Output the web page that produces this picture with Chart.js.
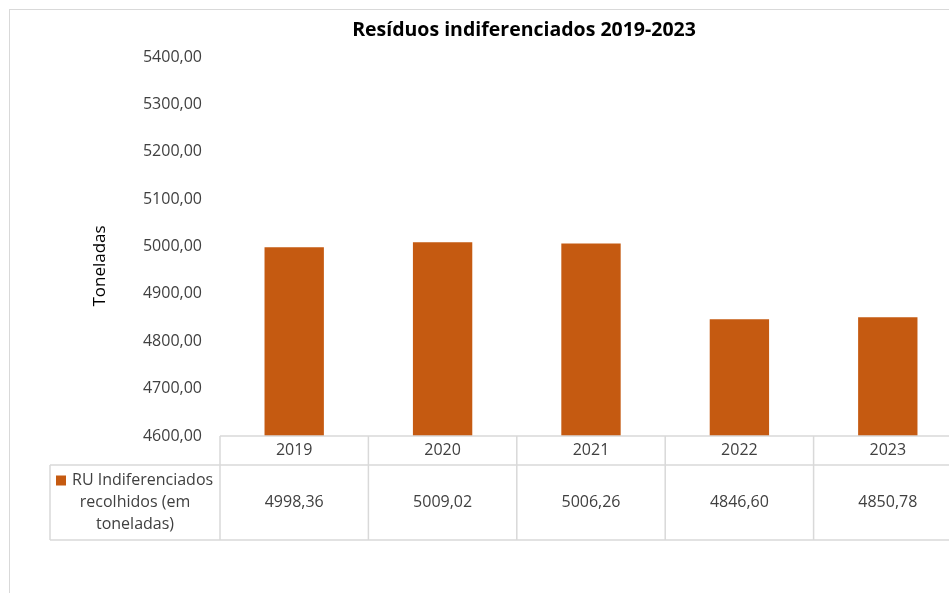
<!DOCTYPE html>
<html>
<head>
<meta charset="utf-8">
<script src="https://cdn.jsdelivr.net/npm/chart.js@4"></script>
<style>
  html, body { margin: 0; padding: 0; background: #fff; overflow: hidden; }
  #wrap { width: 1040px; height: 593px; }
</style>
</head>
<body>
<div id="wrap"><canvas id="mycanvas" width="1040" height="593"></canvas></div>
<script>
// valores do gráfico
var anos = ['2019', '2020', '2021', '2022', '2023'];
var toneladas = [4998.36, 5009.02, 5006.26, 4846.60, 4850.78];
var legenda = ['RU Indiferenciados', 'recolhidos (em', 'toneladas)'];
var titulo = 'Resíduos indiferenciados 2019-2023';
var tituloEixo = 'Toneladas';
var yMin = 4600, yMax = 5400, yPasso = 100;

var cor = '#C55A11';
var linha = '#d9d9d9';
var texto = '#404040';
var fonte = '"Open Sans", "Liberation Sans", sans-serif';

function fmt(v) {
	return v.toFixed(2).replace('.', ',');
}

// moldura, título, título do eixo e tabela de dados
var extras = {
	id: 'extras',
	beforeDraw: function(chart) {
		var c = chart.ctx;
		c.save();
		c.strokeStyle = linha;
		c.lineWidth = 1;
		c.strokeRect(9.5, 9.5, 1030, 600);
		c.restore();
	},
	afterDraw: function(chart) {
		var c = chart.ctx;
		var x = chart.scales.x;
		var area = chart.chartArea;
		var meia = (x.getPixelForValue(1) - x.getPixelForValue(0)) / 2;
		var esq = area.left, dir = x.getPixelForValue(anos.length - 1) + meia;
		var y0 = area.bottom, y1 = y0 + 29, y2 = y0 + 104;
		var legEsq = 50;

		c.save();
		// título
		c.fillStyle = '#000';
		c.font = 'bold 19.5px ' + fonte;
		c.textAlign = 'center';
		c.textBaseline = 'middle';
		c.fillText(titulo, 524, 30);

		// título do eixo
		c.save();
		c.translate(100, 266);
		c.rotate(-Math.PI / 2);
		c.font = '17px ' + fonte;
		c.fillStyle = '#000';
		c.fillText(tituloEixo, 0, 0);
		c.restore();

		// linhas da tabela
		c.strokeStyle = linha;
		c.lineWidth = 1.5;
		c.beginPath();
		c.moveTo(esq, y0); c.lineTo(dir, y0);
		c.moveTo(legEsq, y1); c.lineTo(dir, y1);
		c.moveTo(legEsq, y2); c.lineTo(dir, y2);
		c.moveTo(legEsq, y1); c.lineTo(legEsq, y2);
		for (var i = 0; i <= anos.length; i++) {
			var px = i < anos.length ? x.getPixelForValue(i) - meia : dir;
			c.moveTo(px, y0); c.lineTo(px, y2);
		}
		c.stroke();

		// anos e valores
		c.fillStyle = texto;
		c.font = '16px ' + fonte;
		for (var j = 0; j < anos.length; j++) {
			var cx = x.getPixelForValue(j);
			c.fillText(anos[j], cx, (y0 + y1) / 2);
			c.fillText(fmt(toneladas[j]), cx, (y1 + y2) / 2);
		}

		// legenda
		var mid = (legEsq + esq) / 2;
		var ly = (y1 + y2) / 2 - 22;
		c.fillStyle = cor;
		c.fillRect(56, ly - 5, 10, 10);
		c.fillStyle = texto;
		c.textAlign = 'left';
		c.fillText(legenda[0], 72, ly);
		c.textAlign = 'center';
		c.fillText(legenda[1], mid, ly + 22);
		c.fillText(legenda[2], mid, ly + 44);
		c.restore();
	}
};

var ctx = document.getElementById('mycanvas');

var grafico = new Chart(ctx, {
	type: 'bar',
	data: {
		labels: anos,
		datasets: [{
			label: legenda.join(' '),
			backgroundColor: cor,
			borderWidth: 0,
			data: toneladas,
			categoryPercentage: 1,
			barPercentage: 0.4
		}]
	},
	options: {
		responsive: false,
		animation: false,
		layout: { padding: { left: 0, top: 57, right: 78, bottom: 157 } },
		plugins: {
			legend: { display: false },
			title: { display: false },
			tooltip: { enabled: false }
		},
		scales: {
			x: { display: false },
			y: {
				min: yMin,
				max: yMax,
				border: { display: false },
				grid: { display: false, drawTicks: false },
				afterFit: function(s) { s.width = 220; },
				ticks: {
					stepSize: yPasso,
					padding: 18,
					color: texto,
					font: { family: fonte, size: 16 },
					callback: function(v) { return fmt(v); }
				}
			}
		}
	},
	plugins: [extras]
});
</script>
</body>
</html>
